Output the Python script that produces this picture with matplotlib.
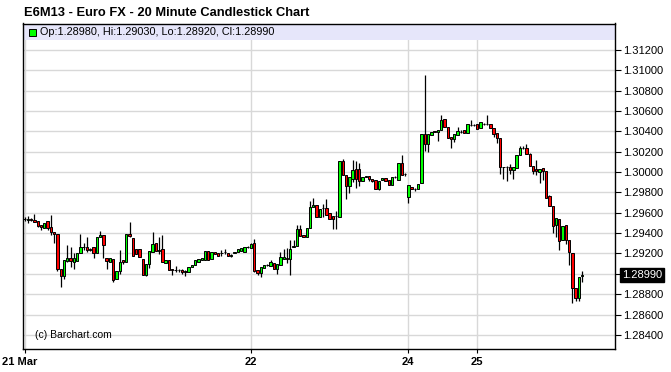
import numpy as np
import matplotlib
matplotlib.use("Agg")
import matplotlib.pyplot as plt
import matplotlib.transforms as mtransforms
from matplotlib.patches import Rectangle

plt.rcParams['font.family'] = ['Liberation Sans Narrow', 'Liberation Sans', 'DejaVu Sans']

# =====================================================
# Data : 20 minute candles, E6M13 Euro FX
# =====================================================

opens = [
    1.2954, 1.2953, 1.2954, 1.2953, 1.2952, 1.2948, 1.2945, 1.2952, 1.2946, 1.2941,
    1.2939, 1.2905, 1.2898, 1.2913, 1.2916, 1.2912, 1.2913, 1.2920, 1.2926, 1.2926,
    1.2923, 1.2926, 1.2920, 1.2936, 1.2938, 1.2916, 1.2912, 1.2915, 1.2895, 1.2903,
    1.2914, 1.2912, 1.2939, 1.2935, 1.2924, 1.2924, 1.2915, 1.2899, 1.2910, 1.2921,
    1.2930, 1.2922, 1.2924, 1.2911, 1.2914, 1.2905, 1.2904, 1.2904, 1.2904, 1.2903,
    1.2902, 1.2907, 1.2909, 1.2912, 1.2914, 1.2914, 1.2922, 1.2915, 1.2921, 1.2920,
    1.2920, 1.2921, 1.2920, 1.2918, 1.2920, 1.2921, 1.2922, 1.2921, 1.2926, 1.2925,
    1.2930, 1.2904, 1.2901, 1.2906, 1.2909, 1.2908, 1.2911, 1.2905, 1.2909, 1.2915,
    1.2916, 1.2915, 1.2926, 1.2927, 1.2944, 1.2938, 1.2936, 1.2945, 1.2966, 1.2968,
    1.2956, 1.2965, 1.2965, 1.2960, 1.2957, 1.2957, 1.2956, 1.3011, 1.2997, 1.2986,
    1.2993, 1.3003, 1.3003, 1.2991, 1.2995, 1.2996, 1.2993, 1.2992, 1.2983, 1.2992,
    1.2994, 1.2992, 1.2987, 1.2995, 1.2992, 1.3009, 1.2998, 1.2975, 1.2985, 1.2983,
    1.2983, 1.2989, 1.3037, 1.3027, 1.3036, 1.3040, 1.3039, 1.3041, 1.3052, 1.3044,
    1.3034, 1.3032, 1.3036, 1.3039, 1.3041, 1.3038, 1.3046, 1.3046, 1.3047, 1.3043,
    1.3047, 1.3047, 1.3047, 1.3043, 1.3038, 1.3033, 1.3005, 1.3005, 1.3005, 1.3002,
    1.3004, 1.3017, 1.3024, 1.3024, 1.3018, 1.3006, 1.3003, 1.3000, 1.3004, 1.3001,
    1.2976, 1.2967, 1.2948, 1.2954, 1.2933, 1.2948, 1.2933, 1.2920, 1.2886, 1.2876,
    1.2898,
]

highs = [
    1.2956, 1.2957, 1.2955, 1.2959, 1.2952, 1.2948, 1.2950, 1.2952, 1.2958, 1.2941,
    1.2939, 1.2905, 1.2914, 1.2928, 1.2926, 1.2920, 1.2920, 1.2939, 1.2930, 1.2936,
    1.2925, 1.2926, 1.2936, 1.2942, 1.2938, 1.2916, 1.2916, 1.2915, 1.2903, 1.2923,
    1.2914, 1.2939, 1.2951, 1.2935, 1.2924, 1.2924, 1.2915, 1.2910, 1.2922, 1.2941,
    1.2930, 1.2936, 1.2938, 1.2914, 1.2914, 1.2905, 1.2908, 1.2905, 1.2905, 1.2904,
    1.2907, 1.2909, 1.2914, 1.2915, 1.2916, 1.2922, 1.2922, 1.2921, 1.2921, 1.2920,
    1.2923, 1.2924, 1.2920, 1.2919, 1.2921, 1.2924, 1.2925, 1.2926, 1.2927, 1.2930,
    1.2934, 1.2904, 1.2907, 1.2909, 1.2910, 1.2914, 1.2911, 1.2910, 1.2921, 1.2924,
    1.2925, 1.2933, 1.2933, 1.2948, 1.2948, 1.2938, 1.2945, 1.2972, 1.2974, 1.2968,
    1.2964, 1.2969, 1.2973, 1.2960, 1.2957, 1.2962, 1.3011, 1.3013, 1.2997, 1.2995,
    1.3012, 1.3011, 1.3009, 1.2995, 1.2996, 1.2996, 1.2993, 1.2992, 1.2991, 1.2994,
    1.2994, 1.2992, 1.2995, 1.2996, 1.3009, 1.3017, 1.2999, 1.2987, 1.2985, 1.2984,
    1.2988, 1.3037, 1.3095, 1.3037, 1.3039, 1.3040, 1.3041, 1.3056, 1.3052, 1.3044,
    1.3034, 1.3037, 1.3044, 1.3041, 1.3041, 1.3047, 1.3051, 1.3047, 1.3047, 1.3049,
    1.3048, 1.3056, 1.3047, 1.3043, 1.3038, 1.3033, 1.3005, 1.3006, 1.3008, 1.3005,
    1.3017, 1.3026, 1.3026, 1.3027, 1.3019, 1.3006, 1.3012, 1.3003, 1.3004, 1.3001,
    1.2977, 1.2967, 1.2955, 1.2954, 1.2947, 1.2948, 1.2933, 1.2920, 1.2886, 1.2897,
    1.2903,
]

lows = [
    1.2952, 1.2950, 1.2952, 1.2951, 1.2946, 1.2943, 1.2945, 1.2943, 1.2938, 1.2930,
    1.2903, 1.2887, 1.2895, 1.2912, 1.2907, 1.2905, 1.2913, 1.2920, 1.2923, 1.2921,
    1.2922, 1.2916, 1.2920, 1.2936, 1.2916, 1.2905, 1.2912, 1.2892, 1.2895, 1.2900,
    1.2910, 1.2912, 1.2936, 1.2918, 1.2919, 1.2917, 1.2899, 1.2898, 1.2906, 1.2921,
    1.2922, 1.2919, 1.2912, 1.2911, 1.2904, 1.2899, 1.2902, 1.2902, 1.2900, 1.2898,
    1.2902, 1.2907, 1.2909, 1.2912, 1.2914, 1.2914, 1.2914, 1.2915, 1.2919, 1.2918,
    1.2918, 1.2919, 1.2918, 1.2917, 1.2920, 1.2921, 1.2922, 1.2921, 1.2925, 1.2925,
    1.2902, 1.2899, 1.2897, 1.2906, 1.2908, 1.2908, 1.2905, 1.2900, 1.2909, 1.2915,
    1.2911, 1.2899, 1.2926, 1.2927, 1.2937, 1.2936, 1.2936, 1.2945, 1.2966, 1.2956,
    1.2956, 1.2956, 1.2958, 1.2954, 1.2944, 1.2944, 1.2956, 1.2997, 1.2973, 1.2979,
    1.2990, 1.2984, 1.2986, 1.2991, 1.2995, 1.2991, 1.2990, 1.2983, 1.2982, 1.2992,
    1.2991, 1.2987, 1.2987, 1.2994, 1.2992, 1.2997, 1.2996, 1.2970, 1.2983, 1.2981,
    1.2983, 1.2989, 1.3021, 1.3020, 1.3036, 1.3039, 1.3030, 1.3041, 1.3044, 1.3033,
    1.3024, 1.3029, 1.3036, 1.3038, 1.3038, 1.3038, 1.3045, 1.3045, 1.3042, 1.3043,
    1.3046, 1.3046, 1.3043, 1.3034, 1.3028, 1.2998, 1.2993, 1.2991, 1.2998, 1.2993,
    1.3004, 1.3017, 1.3023, 1.3018, 1.3006, 1.2998, 1.2997, 1.2989, 1.2992, 1.2974,
    1.2967, 1.2940, 1.2936, 1.2923, 1.2933, 1.2929, 1.2909, 1.2871, 1.2873, 1.2873,
    1.2892,
]

closes = [
    1.2954, 1.2954, 1.2953, 1.2951, 1.2947, 1.2946, 1.2950, 1.2945, 1.2941, 1.2939,
    1.2905, 1.2898, 1.2914, 1.2916, 1.2913, 1.2916, 1.2920, 1.2926, 1.2926, 1.2923,
    1.2924, 1.2920, 1.2936, 1.2938, 1.2928, 1.2913, 1.2916, 1.2894, 1.2903, 1.2912,
    1.2912, 1.2939, 1.2937, 1.2918, 1.2919, 1.2917, 1.2899, 1.2910, 1.2922, 1.2929,
    1.2922, 1.2923, 1.2912, 1.2914, 1.2904, 1.2904, 1.2904, 1.2904, 1.2902, 1.2902,
    1.2907, 1.2909, 1.2914, 1.2915, 1.2916, 1.2922, 1.2914, 1.2921, 1.2919, 1.2918,
    1.2920, 1.2921, 1.2918, 1.2918, 1.2921, 1.2924, 1.2925, 1.2926, 1.2926, 1.2929,
    1.2903, 1.2901, 1.2907, 1.2909, 1.2909, 1.2912, 1.2905, 1.2910, 1.2917, 1.2917,
    1.2915, 1.2924, 1.2927, 1.2944, 1.2937, 1.2936, 1.2945, 1.2966, 1.2968, 1.2956,
    1.2964, 1.2965, 1.2958, 1.2954, 1.2954, 1.2957, 1.3011, 1.2997, 1.2986, 1.2995,
    1.3002, 1.2993, 1.2991, 1.2995, 1.2996, 1.2993, 1.2991, 1.2983, 1.2991, 1.2994,
    1.2991, 1.2987, 1.2995, 1.2995, 1.3009, 1.2997, 1.2998, 1.2987, 1.2983, 1.2983,
    1.2988, 1.3037, 1.3027, 1.3037, 1.3039, 1.3039, 1.3041, 1.3051, 1.3044, 1.3033,
    1.3032, 1.3037, 1.3040, 1.3039, 1.3038, 1.3047, 1.3046, 1.3046, 1.3042, 1.3049,
    1.3047, 1.3047, 1.3043, 1.3037, 1.3033, 1.3005, 1.3005, 1.3005, 1.3002, 1.3005,
    1.3017, 1.3024, 1.3024, 1.3018, 1.3006, 1.3001, 1.3001, 1.3003, 1.3001, 1.2974,
    1.2967, 1.2947, 1.2955, 1.2932, 1.2947, 1.2933, 1.2921, 1.2886, 1.2876, 1.2897,
    1.2899,
]

# day labels on the bar index axis
day_ticks = [0, 69, 117, 138]
day_labels = ["21 Mar", "22", "24", "25"]

price_ticks = [1.284, 1.286, 1.288, 1.290, 1.292, 1.294, 1.296, 1.298,
               1.300, 1.302, 1.304, 1.306, 1.308, 1.310, 1.312]

last_bar = {"Op": 1.28980, "Hi": 1.29030, "Lo": 1.28920, "Cl": 1.28990}

# =====================================================
# Figure
# =====================================================

W, H = 671, 372
fig = plt.figure(figsize=(W / 100, H / 100), dpi=100)
fig.patch.set_facecolor("white")

ax = fig.add_axes([23 / W, 23 / H, 592 / W, 325.5 / H])

o = np.array(opens)
h = np.array(highs)
l = np.array(lows)
c = np.array(closes)
x = np.arange(len(o))

colors = np.where(c >= o, "#00FF00", "#FF0000")

# wicks
ax.vlines(x, l, h, color="black", linewidth=0.9, zorder=3)

# bodies
body = np.abs(c - o)
body = np.where(body < 1e-6, 1e-6, body)
ax.bar(x, body, bottom=np.minimum(o, c), width=0.72,
       color=colors, edgecolor="black", linewidth=0.7, zorder=4)

ax.set_xlim(-0.5, 180)
ax.set_ylim(1.28262, 1.31458)

# grid
ax.set_axisbelow(True)
ax.grid(True, color="#D8D8D8", linewidth=1.0)

# y axis on the right
ax.yaxis.tick_right()
ax.set_yticks(price_ticks)
ylabels = ["" if abs(p - 1.290) < 1e-9 else f"{p:.5f}" for p in price_ticks]
ax.set_yticklabels(ylabels, fontsize=8)
ax.tick_params(axis="y", direction="out", length=4, width=0.8, pad=2, colors="black")

# x axis
ax.set_xticks(day_ticks)
ax.set_xticklabels(day_labels, fontsize=8, fontweight="bold")
ax.tick_params(axis="x", direction="out", length=3, width=0.8, pad=3)

# first label sits hard against the left edge, as in the original
first = ax.get_xticklabels()[0]
first.set_transform(first.get_transform() +
                    mtransforms.ScaledTranslation(-5 / 100, 0, fig.dpi_scale_trans))

for s in ax.spines.values():
    s.set_color("black")
    s.set_linewidth(1.0)

# legend band at top of plot
band_h = 16 / 325.5
ax.add_patch(Rectangle((0, 1 - band_h), 1, band_h, transform=ax.transAxes,
                       facecolor="#E6E6FA", edgecolor="none", zorder=2))
ax.add_patch(Rectangle((6 / 592, 1 - 12.5 / 325.5), 7 / 592, 7 / 325.5,
                       transform=ax.transAxes, facecolor="#00FF00",
                       edgecolor="black", linewidth=0.7, zorder=5))
legend_text = ", ".join(f"{k}:{v:.5f}" for k, v in last_bar.items())
fig.text(40 / W, 1 - 32 / H, legend_text, fontsize=7.8, va="center", ha="left")

# current price box
fig.text(622 / W, 1 - 275 / H, f"{closes[-1]:.5f}", fontsize=8, color="white",
         va="center", ha="left",
         bbox=dict(facecolor="black", edgecolor="black", pad=1.2))

# title and credit
fig.text(24 / W, 1 - 13 / H, "E6M13 - Euro FX - 20 Minute Candlestick Chart",
         fontsize=9.3, fontweight="bold", va="center", ha="left",
         family=["Liberation Sans", "DejaVu Sans"])
fig.text(35 / W, 1 - 335 / H, "(c) Barchart.com", fontsize=7.5, va="center", ha="left")

plt.savefig("out.png", dpi=100)
plt.close()
